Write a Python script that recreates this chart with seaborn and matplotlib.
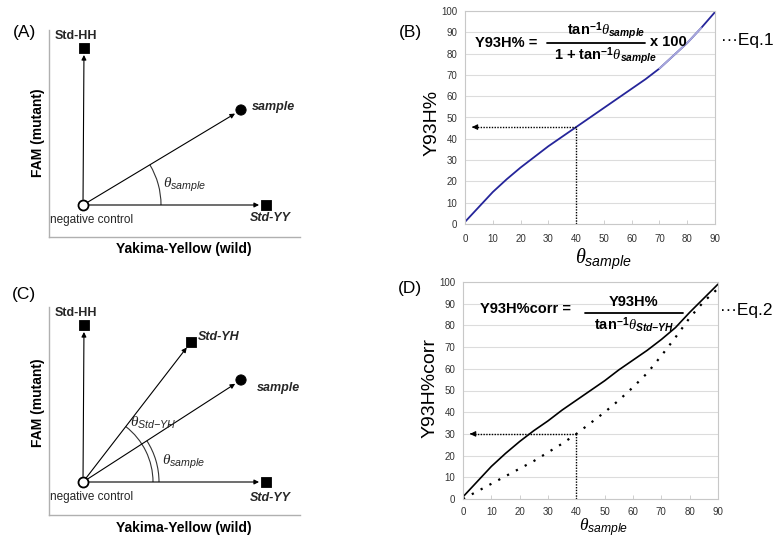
import numpy as np
import pandas as pd
import matplotlib
matplotlib.use("Agg")
import matplotlib.pyplot as plt
import seaborn as sns
from matplotlib.patches import Arc
from matplotlib.lines import Line2D

# vector diagrams: signal of each point relative to the negative control
names_a = ["Std-HH", "sample", "Std-YY"]
yy_a = [1, 158, 183]
fam_a = [157, 95, 0]
kind_a = ["square", "circle", "square"]

names_c = ["Std-HH", "Std-YH", "sample", "Std-YY"]
yy_c = [1, 108, 158, 183]
fam_c = [157, 140, 102, 0]
kind_c = ["square", "square", "circle", "square"]

# curves (B) and (D)
theta = [0, 5, 10, 15, 20, 25, 30, 35, 40, 45, 50, 55, 60, 65, 70, 75, 80, 85, 90]
y93h = [1, 8, 15, 21, 26.5, 31.5, 36.5, 41, 45.5, 50, 54.5, 59, 63.5, 68, 73, 79, 85, 92, 99.5]
y93h_d = [1, 8, 15, 21, 26.5, 31.5, 36, 41, 45.5, 50, 54.5, 59.5, 64, 68.5, 73.5, 79, 86, 92.5, 99]
y93h_corr = [0, 3.5, 7, 10.5, 14, 17.5, 21.5, 25.5, 30, 35, 40, 45.5, 51.5, 58, 66, 74.5, 83.5, 91, 97]
theta_read = 40
y93h_read = 45.5
corr_read = 30
x_ticks = list(range(0, 91, 10))
y_ticks = list(range(0, 101, 10))

sns.set_theme(style="white")
plt.rcParams["font.family"] = ["Liberation Sans", "DejaVu Sans"]
plt.rcParams["mathtext.fontset"] = "custom"
plt.rcParams["mathtext.rm"] = "Liberation Sans"
plt.rcParams["mathtext.it"] = "Liberation Serif:italic"
plt.rcParams["mathtext.sf"] = "Liberation Sans:italic"
plt.rcParams["mathtext.bf"] = "Liberation Sans:bold"
plt.rcParams["mathtext.bfit"] = "Liberation Sans:italic:bold"

W, H = 775, 540
fig = plt.figure(figsize=(W / 100, H / 100), dpi=100)
fig.patch.set_facecolor("white")


def rect(x0, y0, x1, y1):
    return [x0 / W, 1 - y1 / H, (x1 - x0) / W, (y1 - y0) / H]


def put(x, y, s, **kw):
    kw.setdefault("ha", "center")
    kw.setdefault("va", "center")
    kw.setdefault("color", "black")
    fig.text(x / W, 1 - y / H, s, **kw)


def hline(x0, x1, y, lw=1.3):
    fig.add_artist(Line2D([x0 / W, x1 / W], [1 - y / H, 1 - y / H],
                          transform=fig.transFigure, color="black", lw=lw))


def diagram(box, origin, xs, ys, kinds):
    x0, y0, x1, y1 = box
    ox, oy = origin
    ax = fig.add_axes(rect(x0, y0, x1, y1))
    ax.set_xlim(x0 - ox, x1 - ox)
    ax.set_ylim(oy - y1, oy - y0)
    for s in ["top", "right"]:
        ax.spines[s].set_visible(False)
    for s in ["left", "bottom"]:
        ax.spines[s].set_color("#b0b0b0")
        ax.spines[s].set_linewidth(1.0)
    ax.set_xticks([])
    ax.set_yticks([])
    for x, y in zip(xs, ys):
        ax.annotate("", xy=(x, y), xytext=(0, 0),
                    arrowprops=dict(arrowstyle="-|>", color="black", lw=0.8,
                                    shrinkA=4, shrinkB=5, mutation_scale=7))
    df = pd.DataFrame({"x": xs, "y": ys, "kind": kinds})
    sns.scatterplot(data=df, x="x", y="y", style="kind",
                    markers={"square": "s", "circle": "o"}, color="black",
                    edgecolor="black", s=55, legend=False, ax=ax, zorder=5)
    ax.scatter([0], [0], s=52, facecolor="white", edgecolor="black",
               linewidth=1.3, zorder=6)
    ax.set_xlabel("")
    ax.set_ylabel("")
    return ax


bold9 = dict(fontsize=9, fontweight="bold")
bi9 = dict(fontsize=9, fontweight="bold", style="italic")

# (A)
ax_a = diagram((49, 30, 300, 237), (83, 205), yy_a, fam_a, kind_a)
ang = np.degrees(np.arctan2(fam_a[1], yy_a[1]))
ax_a.add_patch(Arc((0, 0), 156, 156, theta1=0, theta2=ang, color="#333333", lw=0.8))
ax_a.text(-7, 169, "Std-HH", ha="center", va="center", **bold9)
ax_a.text(169, 98, "sample", ha="left", va="center", **bi9)
ax_a.text(187, -13, "Std-YY", ha="center", va="center", **bi9)
ax_a.text(-33, -15, "negative control", ha="left", va="center", fontsize=8.5)
ax_a.text(80, 20, r"$\theta_{\mathsf{sample}}$", ha="left", va="center", fontsize=11)
put(24, 32, "(A)", fontsize=12.5)
put(38, 133, "FAM (mutant)", rotation=90, fontsize=10, fontweight="bold")
put(184, 249, "Yakima-Yellow (wild)", fontsize=10, fontweight="bold")

# (C)
ax_c = diagram((49, 307, 300, 515), (83, 482), yy_c, fam_c, kind_c)
ang_yh = np.degrees(np.arctan2(fam_c[1], yy_c[1]))
ang_s = np.degrees(np.arctan2(fam_c[2], yy_c[2]))
ax_c.add_patch(Arc((0, 0), 140, 140, theta1=0, theta2=ang_yh, color="#333333", lw=0.8))
ax_c.add_patch(Arc((0, 0), 152, 152, theta1=0, theta2=ang_s, color="#333333", lw=0.8))
ax_c.text(-7, 169, "Std-HH", ha="center", va="center", **bold9)
ax_c.text(115, 145, "Std-YH", ha="left", va="center", **bi9)
ax_c.text(174, 94, "sample", ha="left", va="center", clip_on=False, **bi9)
ax_c.text(187, -16, "Std-YY", ha="center", va="center", **bi9)
ax_c.text(-33, -15, "negative control", ha="left", va="center", fontsize=8.5)
ax_c.text(47, 59, r"$\theta_{\mathsf{Std{-}YH}}$", ha="left", va="center", fontsize=11)
ax_c.text(79, 20, r"$\theta_{\mathsf{sample}}$", ha="left", va="center", fontsize=11)
put(24, 295, "(C)", fontsize=12.5)
put(38, 403, "FAM (mutant)", rotation=90, fontsize=10, fontweight="bold")
put(184, 528, "Yakima-Yellow (wild)", fontsize=10, fontweight="bold")


def curve_axes(box, xpad):
    ax = fig.add_axes(rect(*box))
    ax.set_xlim(0, 90)
    ax.set_ylim(0, 100)
    ax.set_xticks(x_ticks)
    ax.set_yticks(y_ticks)
    ax.yaxis.grid(True, color="#dcdcdc", lw=0.8)
    ax.xaxis.grid(False)
    for s in ax.spines.values():
        s.set_color("#c8c8c8")
        s.set_linewidth(0.8)
    ax.tick_params(axis="x", direction="in", length=3, width=0.6, color="#c8c8c8",
                   labelsize=7, labelcolor="#333333", pad=xpad, bottom=True)
    ax.tick_params(axis="y", length=0, labelsize=7, labelcolor="#333333", pad=5.5)
    return ax


# (B)
ax_b = curve_axes((465, 11, 715, 224), 7.5)
sns.lineplot(x=theta, y=y93h, color="#25259a", lw=1.3, ax=ax_b)
sns.lineplot(x=theta[14:18], y=y93h[14:18], color="#a8a8dc", lw=1.3, ax=ax_b)
ax_b.plot([theta_read, theta_read], [0, y93h_read], color="black", lw=1, ls=(0, (1, 1)))
ax_b.plot([theta_read, 3], [y93h_read, y93h_read], color="black", lw=1, ls=(0, (1, 1)))
ax_b.annotate("", xy=(1.5, y93h_read), xytext=(4, y93h_read),
              arrowprops=dict(arrowstyle="-|>", color="black", lw=0.8, mutation_scale=8))
put(432, 123, "Y93H%", rotation=90, fontsize=14)
put(603, 259, r"$\theta_{\mathsf{sample}}$", fontsize=14.5)
put(410, 32, "(B)", fontsize=12.5)
eq = dict(fontsize=10.5, fontweight="bold")
put(506, 43, "Y93H% =", **eq)
put(606, 31, r"tan$^{\mathbf{-1}}$$\theta_{\mathbfit{sample}}$", **eq)
put(606, 56, r"1 + tan$^{\mathbf{-1}}$$\theta_{\mathbfit{sample}}$", **eq)
hline(547, 645, 43)
put(668, 42, "x 100", **eq)
put(747, 41, "···Eq.1", fontsize=12.5)

# (D)
ax_d = curve_axes((463, 282, 718, 499), 6)
sns.lineplot(x=theta, y=y93h_d, color="black", lw=1.2, ax=ax_d)
sns.lineplot(x=theta, y=y93h_corr, color="black", lw=1.6, ls=(0, (1, 3.5)), ax=ax_d)
ax_d.plot([theta_read, theta_read], [0, corr_read], color="black", lw=1, ls=(0, (1, 1)))
ax_d.plot([theta_read, 3], [corr_read, corr_read], color="black", lw=1, ls=(0, (1, 1)))
ax_d.annotate("", xy=(1.5, corr_read), xytext=(4, corr_read),
              arrowprops=dict(arrowstyle="-|>", color="black", lw=0.8, mutation_scale=8))
put(430, 388, "Y93H%corr", rotation=90, fontsize=14)
put(604, 539, r"$\theta_{\mathsf{sample}}$", fontsize=12.5, va="bottom")
put(410, 288, "(D)", fontsize=12.5)
put(525, 309, "Y93H%corr =", **eq)
put(634, 302, "Y93H%", **eq)
put(634, 325, r"tan$^{\mathbf{-1}}$$\theta_{\mathbfit{Std{-}YH}}$", **eq)
hline(585, 683, 313)
put(746, 311, "···Eq.2", fontsize=12.5)

fig.savefig("out.png", dpi=100, facecolor="white")
